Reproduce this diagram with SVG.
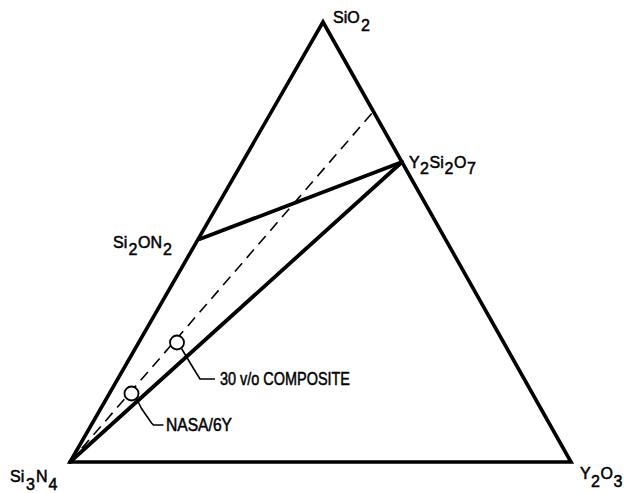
<svg xmlns="http://www.w3.org/2000/svg" width="624" height="493" viewBox="0 0 624 493">
<style>
.edge{fill:none;stroke:#000;stroke-width:3.6;stroke-linejoin:miter;stroke-linecap:round}
.tie{fill:none;stroke:#000;stroke-width:3.8;stroke-linecap:round}
.dash{fill:none;stroke:#000;stroke-width:1.6;stroke-dasharray:11 7}
.lead{fill:none;stroke:#000;stroke-width:1.6}
.pt{fill:#fff;stroke:#000;stroke-width:1.8}
text{font-family:"Liberation Sans",Arial,sans-serif;font-size:16px;fill:#000;stroke:#000;stroke-width:0.5}
.lbl{font-size:18px}
</style>
<rect width="624" height="493" fill="#fff"/>
<g id="connectors">
<polygon class="edge" points="323,22 571,462 70,462"/>
<line class="dash" x1="70" y1="462" x2="373" y2="112"/>
<line class="tie" x1="200" y1="239" x2="402" y2="162"/>
<line class="tie" x1="70" y1="462" x2="402" y2="162"/>
<polyline class="lead" points="181.5,348.5 193.5,368.5 200,379 215,379"/>
<polyline class="lead" points="136.5,398.5 141.5,408.5 151.5,423 153.5,425 163.5,425"/>
</g>
<g id="sio2"><text x="333" y="23">SiO<tspan x="361" y="31">2</tspan></text></g>
<g id="y2si2o7"><text x="409" y="168">Y<tspan x="420" y="174">2</tspan><tspan x="429.5" y="168">Si</tspan><tspan x="444.5" y="174">2</tspan><tspan x="454" y="168">O</tspan><tspan x="467" y="174">7</tspan></text></g>
<g id="si2on2"><text x="113" y="248">Si<tspan x="128.5" y="255">2</tspan><tspan x="138" y="248">ON</tspan><tspan x="163" y="255">2</tspan></text></g>
<g id="si3n4"><text x="10" y="482">Si<tspan x="26" y="490">3</tspan><tspan x="36" y="482">N</tspan><tspan x="48.5" y="490">4</tspan></text></g>
<g id="y2o3"><text x="580" y="479">Y<tspan x="591" y="487">2</tspan><tspan x="600.5" y="479">O</tspan><tspan x="613.5" y="487">3</tspan></text></g>
<g id="composite"><circle class="pt" cx="177" cy="342.5" r="7"/><text class="lbl" x="220" y="385" textLength="130" lengthAdjust="spacingAndGlyphs">30 v/o COMPOSITE</text></g>
<g id="nasa6y"><circle class="pt" cx="131.5" cy="393.5" r="7"/><text class="lbl" x="166" y="431" textLength="66" lengthAdjust="spacingAndGlyphs">NASA/6Y</text></g>
</svg>
